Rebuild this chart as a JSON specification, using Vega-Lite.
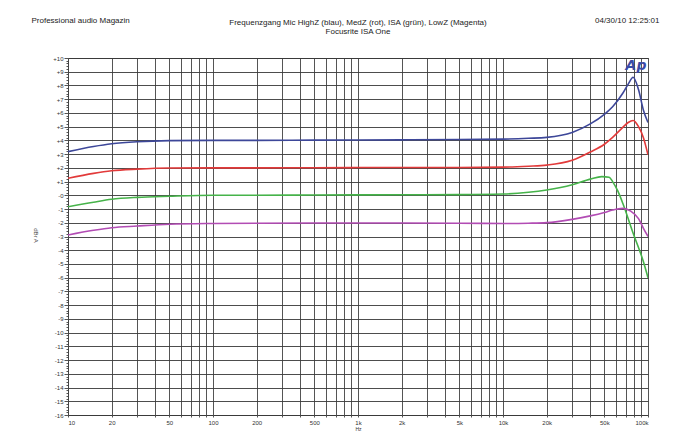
{
  "$schema": "https://vega.github.io/schema/vega-lite/v6.json",
  "width": 580,
  "height": 357,
  "autosize": "none",
  "padding": {"left": 68, "top": 58, "right": 32, "bottom": 17},
  "background": "white",
  "config": {"view": {"stroke": "#444", "strokeWidth": 1}, "font": "Liberation Sans"},
  "title": {
    "text": "Frequenzgang Mic HighZ (blau), MedZ (rot), ISA (grün), LowZ (Magenta)",
    "subtitle": "Focusrite ISA One",
    "fontSize": 8, "subtitleFontSize": 8, "fontWeight": "normal",
    "color": "#222", "subtitleColor": "#222", "anchor": "middle",
    "frame": "group", "offset": -20, "subtitlePadding": 1
  },
  "datasets": {
    "curves": [
      {"s": "HighZ", "f": 10, "db": 3.18}, {"s": "HighZ", "f": 15, "db": 3.55}, {"s": "HighZ", "f": 20, "db": 3.75}, {"s": "HighZ", "f": 30, "db": 3.9}, {"s": "HighZ", "f": 50, "db": 3.98}, {"s": "HighZ", "f": 100, "db": 4.0}, {"s": "HighZ", "f": 200, "db": 4.0}, {"s": "HighZ", "f": 500, "db": 4.02}, {"s": "HighZ", "f": 1000, "db": 4.03}, {"s": "HighZ", "f": 2000, "db": 4.04}, {"s": "HighZ", "f": 5000, "db": 4.06}, {"s": "HighZ", "f": 10000, "db": 4.09}, {"s": "HighZ", "f": 15000, "db": 4.15}, {"s": "HighZ", "f": 20000, "db": 4.22}, {"s": "HighZ", "f": 30000, "db": 4.58}, {"s": "HighZ", "f": 40000, "db": 5.2}, {"s": "HighZ", "f": 50000, "db": 5.9}, {"s": "HighZ", "f": 57000, "db": 6.45}, {"s": "HighZ", "f": 67000, "db": 7.43}, {"s": "HighZ", "f": 73000, "db": 8.1}, {"s": "HighZ", "f": 79000, "db": 8.6}, {"s": "HighZ", "f": 86000, "db": 7.7}, {"s": "HighZ", "f": 93000, "db": 6.2}, {"s": "HighZ", "f": 100000, "db": 5.3},
      {"s": "MedZ", "f": 10, "db": 1.24}, {"s": "MedZ", "f": 15, "db": 1.6}, {"s": "MedZ", "f": 20, "db": 1.79}, {"s": "MedZ", "f": 30, "db": 1.91}, {"s": "MedZ", "f": 50, "db": 1.99}, {"s": "MedZ", "f": 100, "db": 2.0}, {"s": "MedZ", "f": 200, "db": 2.0}, {"s": "MedZ", "f": 500, "db": 2.01}, {"s": "MedZ", "f": 1000, "db": 2.02}, {"s": "MedZ", "f": 2000, "db": 2.02}, {"s": "MedZ", "f": 5000, "db": 2.03}, {"s": "MedZ", "f": 10000, "db": 2.05}, {"s": "MedZ", "f": 15000, "db": 2.12}, {"s": "MedZ", "f": 20000, "db": 2.2}, {"s": "MedZ", "f": 30000, "db": 2.55}, {"s": "MedZ", "f": 40000, "db": 3.15}, {"s": "MedZ", "f": 50000, "db": 3.72}, {"s": "MedZ", "f": 57000, "db": 4.22}, {"s": "MedZ", "f": 67000, "db": 4.95}, {"s": "MedZ", "f": 73000, "db": 5.3}, {"s": "MedZ", "f": 79000, "db": 5.45}, {"s": "MedZ", "f": 86000, "db": 5.0}, {"s": "MedZ", "f": 93000, "db": 4.2}, {"s": "MedZ", "f": 100000, "db": 2.95},
      {"s": "ISA", "f": 10, "db": -0.83}, {"s": "ISA", "f": 15, "db": -0.5}, {"s": "ISA", "f": 20, "db": -0.29}, {"s": "ISA", "f": 30, "db": -0.15}, {"s": "ISA", "f": 50, "db": -0.07}, {"s": "ISA", "f": 100, "db": 0.0}, {"s": "ISA", "f": 200, "db": 0.0}, {"s": "ISA", "f": 500, "db": 0.02}, {"s": "ISA", "f": 1000, "db": 0.03}, {"s": "ISA", "f": 2000, "db": 0.04}, {"s": "ISA", "f": 5000, "db": 0.05}, {"s": "ISA", "f": 10000, "db": 0.09}, {"s": "ISA", "f": 15000, "db": 0.22}, {"s": "ISA", "f": 20000, "db": 0.39}, {"s": "ISA", "f": 30000, "db": 0.77}, {"s": "ISA", "f": 40000, "db": 1.18}, {"s": "ISA", "f": 48000, "db": 1.36}, {"s": "ISA", "f": 54000, "db": 1.32}, {"s": "ISA", "f": 57000, "db": 1.0}, {"s": "ISA", "f": 62000, "db": 0.3}, {"s": "ISA", "f": 67000, "db": -0.58}, {"s": "ISA", "f": 79000, "db": -2.77}, {"s": "ISA", "f": 93000, "db": -4.84}, {"s": "ISA", "f": 100000, "db": -6.0},
      {"s": "LowZ", "f": 10, "db": -2.89}, {"s": "LowZ", "f": 15, "db": -2.55}, {"s": "LowZ", "f": 20, "db": -2.36}, {"s": "LowZ", "f": 30, "db": -2.24}, {"s": "LowZ", "f": 50, "db": -2.11}, {"s": "LowZ", "f": 100, "db": -2.05}, {"s": "LowZ", "f": 200, "db": -2.03}, {"s": "LowZ", "f": 500, "db": -2.02}, {"s": "LowZ", "f": 1000, "db": -2.02}, {"s": "LowZ", "f": 2000, "db": -2.02}, {"s": "LowZ", "f": 5000, "db": -2.03}, {"s": "LowZ", "f": 10000, "db": -2.05}, {"s": "LowZ", "f": 15000, "db": -2.03}, {"s": "LowZ", "f": 20000, "db": -1.99}, {"s": "LowZ", "f": 30000, "db": -1.75}, {"s": "LowZ", "f": 40000, "db": -1.5}, {"s": "LowZ", "f": 50000, "db": -1.25}, {"s": "LowZ", "f": 57000, "db": -1.07}, {"s": "LowZ", "f": 67000, "db": -0.95}, {"s": "LowZ", "f": 76000, "db": -1.15}, {"s": "LowZ", "f": 86000, "db": -1.7}, {"s": "LowZ", "f": 93000, "db": -2.4}, {"s": "LowZ", "f": 100000, "db": -3.0}
    ],
    "logo": [{"f": 82600, "db": 9.4, "label": "Ap"}]
  },
  "layer": [
    {
      "data": {"name": "curves"},
      "mark": {"type": "line", "interpolate": "monotone", "strokeWidth": 1.6, "clip": true},
      "encoding": {
        "x": {
          "field": "f", "type": "quantitative",
          "scale": {"type": "log", "domain": [10, 100000], "nice": false},
          "axis": {
            "orient": "bottom",
            "values": [10,20,30,40,50,60,70,80,90,100,200,300,400,500,600,700,800,900,1000,2000,3000,4000,5000,6000,7000,8000,9000,10000,20000,30000,40000,50000,60000,70000,80000,90000,100000],
            "labelExpr": "indexof([10,20,50,100,200,500,1000,2000,5000,10000,20000,50000,100000], datum.value) >= 0 ? (datum.value >= 1000 ? (datum.value / 1000) + 'k' : '' + datum.value) : ''",
            "labelOverlap": false,
            "labelFontSize": 6, "labelColor": "#333", "labelPadding": 2,
            "grid": true, "gridColor": "#555", "gridWidth": 1,
            "ticks": true, "tickSize": 2, "tickColor": "#555",
            "domain": false,
            "title": "Hz", "titleFontSize": 5, "titleFontWeight": "normal", "titleColor": "#333",
            "titleY": 11, "titleBaseline": "top"
          }
        },
        "y": {
          "field": "db", "type": "quantitative",
          "scale": {"domain": [-16, 10], "nice": false, "zero": false},
          "axis": {
            "orient": "left",
            "values": [-16,-15.8,-15.6,-15.4,-15.2,-15,-14.8,-14.6,-14.4,-14.2,-14,-13.8,-13.6,-13.4,-13.2,-13,-12.8,-12.6,-12.4,-12.2,-12,-11.8,-11.6,-11.4,-11.2,-11,-10.8,-10.6,-10.4,-10.2,-10,-9.8,-9.6,-9.4,-9.2,-9,-8.8,-8.6,-8.4,-8.2,-8,-7.8,-7.6,-7.4,-7.2,-7,-6.8,-6.6,-6.4,-6.2,-6,-5.8,-5.6,-5.4,-5.2,-5,-4.8,-4.6,-4.4,-4.2,-4,-3.8,-3.6,-3.4,-3.2,-3,-2.8,-2.6,-2.4,-2.2,-2,-1.8,-1.6,-1.4,-1.2,-1,-0.8,-0.6,-0.4,-0.2,0,0.2,0.4,0.6,0.8,1,1.2,1.4,1.6,1.8,2,2.2,2.4,2.6,2.8,3,3.2,3.4,3.6,3.8,4,4.2,4.4,4.6,4.8,5,5.2,5.4,5.6,5.8,6,6.2,6.4,6.6,6.8,7,7.2,7.4,7.6,7.8,8,8.2,8.4,8.6,8.8,9,9.2,9.4,9.6,9.8,10],
            "labelExpr": "datum.value % 1 != 0 ? '' : (datum.value > 0 ? '+' + datum.value : (datum.value == 0 ? '-0' : '' + datum.value))",
            "labelOverlap": false,
            "labelFontSize": 6, "labelColor": "#333", "labelPadding": 1,
            "grid": true, "gridColor": "#3a3a3a", "gridWidth": 1,
            "gridOpacity": {"condition": {"test": "datum.value % 1 == 0", "value": 0.9}, "value": 0},
            "ticks": true, "tickColor": "#555",
            "tickSize": {"condition": {"test": "datum.value % 1 == 0", "value": 4}, "value": 2},
            "domain": true, "domainColor": "#444",
            "title": "dBr A", "titleFontSize": 6, "titleFontWeight": "normal", "titleColor": "#444",
            "titleAngle": 90, "titleX": -33, "titleY": 177, "titleAlign": "center", "titleBaseline": "middle"
          }
        },
        "color": {
          "field": "s", "type": "nominal",
          "scale": {"domain": ["HighZ", "MedZ", "ISA", "LowZ"], "range": ["#3d4799", "#e23a3a", "#46b34a", "#b24cb4"]},
          "legend": null
        },
        "detail": {"field": "s"}
      }
    },
    {
      "data": {"name": "logo"},
      "mark": {"type": "text", "fontSize": 14, "fontStyle": "italic", "fontWeight": "bold", "color": "#3a4aa6", "align": "center", "baseline": "middle", "font": "DejaVu Sans"},
      "encoding": {
        "x": {
          "field": "f", "type": "quantitative",
          "scale": {"type": "log", "domain": [10, 100000], "nice": false},
          "axis": {
            "orient": "top", "labels": false, "ticks": false, "domain": false, "grid": false,
            "title": "Professional audio Magazin", "titleFontSize": 8, "titleFontWeight": "normal", "titleColor": "#222",
            "titleX": -37, "titleY": -38, "titleAlign": "left", "titleBaseline": "middle", "titleAngle": 0
          }
        },
        "y": {
          "field": "db", "type": "quantitative",
          "scale": {"domain": [-16, 10], "nice": false, "zero": false},
          "axis": {
            "orient": "right", "labels": false, "ticks": false, "domain": false, "grid": false,
            "title": "04/30/10 12:25:01", "titleFontSize": 8, "titleFontWeight": "normal", "titleColor": "#222",
            "titleX": 11, "titleY": -38, "titleAlign": "right", "titleBaseline": "middle", "titleAngle": 0
          }
        },
        "text": {"field": "label", "type": "nominal"}
      }
    }
  ],
  "resolve": {"axis": {"x": "independent", "y": "independent"}}
}
